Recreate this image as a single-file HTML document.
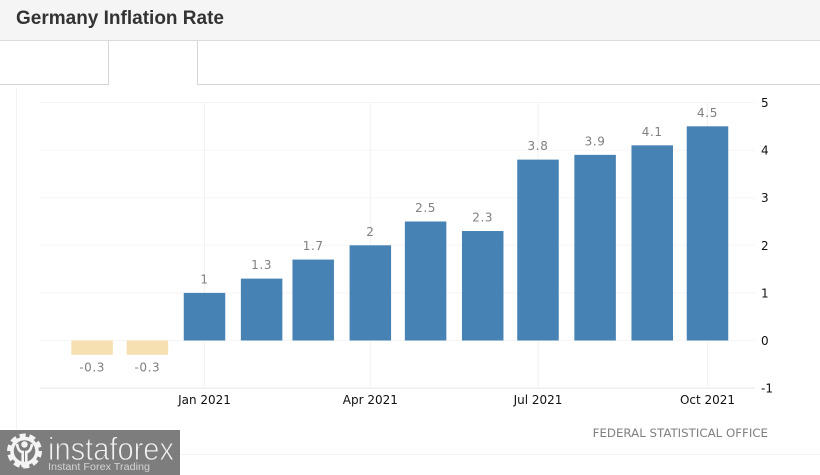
<!DOCTYPE html>
<html lang="en">
<head>
<meta charset="utf-8">
<title>Germany Inflation Rate</title>
<style>
html,body{margin:0;padding:0;background:#fff;}
#page{position:relative;width:820px;height:475px;overflow:hidden;background:#fff;font-family:"Liberation Sans",sans-serif;}
#header{position:absolute;left:0;top:0;width:820px;height:40px;background:#f5f5f5;border-bottom:1px solid #dcdcdc;}
#title{position:absolute;left:16px;top:8px;font-size:19px;line-height:22px;font-weight:bold;color:#333;}
svg{position:absolute;left:0;top:0;}
</style>
</head>
<body>
<div id="page">
  <div id="header">
    <div id="title">Germany Inflation Rate</div>
  </div>
  <svg id="chart" width="820" height="475" viewBox="0 0 820 475"></svg>
</div>
<script>
const categories = ['2020-11-01','2020-12-01','2021-01-01','2021-02-01','2021-03-01','2021-04-01','2021-05-01','2021-06-01','2021-07-01','2021-08-01','2021-09-01','2021-10-01'];
const inflationValues = [-0.3,-0.3,1,1.3,1.7,2,2.5,2.3,3.8,3.9,4.1,4.5];
const valueLabels = ['-0.3','-0.3','1','1.3','1.7','2','2.5','2.3','3.8','3.9','4.1','4.5'];
const yTicks = [5,4,3,2,1,0,-1];
const yTickLabels = ['5','4','3','2','1','0','-1'];
const xTickDates = ['2021-01-01','2021-04-01','2021-07-01','2021-10-01'];
const xTickLabels = ['Jan 2021','Apr 2021','Jul 2021','Oct 2021'];
const sourceLabel = 'FEDERAL STATISTICAL OFFICE';

const svg = document.getElementById('chart');
const NS = 'http://www.w3.org/2000/svg';
const DAY = 86400000;
const originDate = Date.parse('2021-01-01');
function xScale(dateStr){ return 204.5 + (Date.parse(dateStr) - originDate) / DAY * 1.8425; }
function yScale(v){ return 340.5 - v * 47.6; }
function make(tag, attrs, parent){
  const el = document.createElementNS(NS, tag);
  for (const k in attrs) el.setAttribute(k, attrs[k]);
  (parent || svg).appendChild(el);
  return el;
}
const font = '"DejaVu Sans","Liberation Sans",sans-serif';

// tab outline
const tabLine = make('path', {d:'M0 84.5H108.5V41M197.5 41V84.5H820', fill:'none', stroke:'#d6d6d6', 'stroke-width':1});



// panel frame
const frame = make('path', {d:'M16.5 88V475M0 454.5H820', fill:'none', stroke:'#f3f3f3', 'stroke-width':1});



// horizontal grid
yTicks.forEach(function(t, i){
  const line = make('line', {x1:40, x2:755, y1:yScale(t), y2:yScale(t), stroke: t === -1 ? '#e8e8e8' : '#f5f5f5', 'stroke-width':1});
  
  
  const label = make('text', {x:761, y:yScale(t) + 4.5, 'font-family':font, 'font-size':12, fill:'#111'});
  label.textContent = yTickLabels[i];
  
  
});

// vertical grid and x labels
xTickDates.forEach(function(d, i){
  const x = xScale(d);
  const line = make('line', {x1:x, x2:x, y1:102, y2:388, stroke:'#f2f2f2', 'stroke-width':1});
  
  
  const label = make('text', {x:x, y:404, 'text-anchor':'middle', 'font-family':font, 'font-size':12, fill:'#111'});
  label.textContent = xTickLabels[i];
  
  
});

// bars
const barWidth = 41.5;
inflationValues.forEach(function(v, i){
  const x = xScale(categories[i]) - barWidth / 2;
  const y0 = yScale(0), y1 = yScale(v);
  const bar = make('rect', {x:x, y:Math.min(y0, y1), width:barWidth, height:Math.abs(y1 - y0), fill: v < 0 ? '#f6dfb0' : '#4682b4'});
  
  
  const labelY = v < 0 ? y1 + 16.5 : y1 - 9.5;
  const label = make('text', {x:x + barWidth / 2, y:labelY, 'text-anchor':'middle', 'font-family':font, 'font-size':12, 'letter-spacing':'0.6', fill:'#808080'});
  label.textContent = valueLabels[i];
  
  
});

// source
const source = make('text', {x:768, y:437, 'text-anchor':'end', 'font-family':font, 'font-size':11.8, fill:'#7f7f7f'});
source.textContent = sourceLabel;



// watermark
const logo = make('g', {});


make('rect', {x:0, y:430, width:180, height:45, fill:'#7d7d7d'}, logo);
const gear = make('g', {}, logo);


make('circle', {cx:24.5, cy:451, r:15.5, fill:'none', stroke:'#f4f4f4', 'stroke-width':4, 'stroke-dasharray':'6 3.73'}, gear);
make('circle', {cx:24.5, cy:451, r:12.5, fill:'none', stroke:'#f4f4f4', 'stroke-width':3.5}, gear);
make('circle', {cx:24.5, cy:444.5, r:3.2, fill:'#f4f4f4'}, gear);
make('path', {d:'M17 444C18 450 20 452 22.7 452V466H26.3V452C29 452 31 450 32 444', fill:'none', stroke:'#f4f4f4', 'stroke-width':2.6}, gear);
const brand = make('text', {x:48, y:460, 'font-family':'"Liberation Sans",sans-serif', 'font-size':32, fill:'#f2f2f2', stroke:'#7d7d7d', 'stroke-width':0.9, textLength:126, lengthAdjust:'spacingAndGlyphs'}, logo);
brand.textContent = 'instaforex';


const tagline = make('text', {x:48, y:470, 'font-family':'"Liberation Sans",sans-serif', 'font-size':10.5, fill:'#d4d4d4', textLength:102, lengthAdjust:'spacingAndGlyphs'}, logo);
tagline.textContent = 'Instant Forex Trading';


</script>
</body>
</html>
